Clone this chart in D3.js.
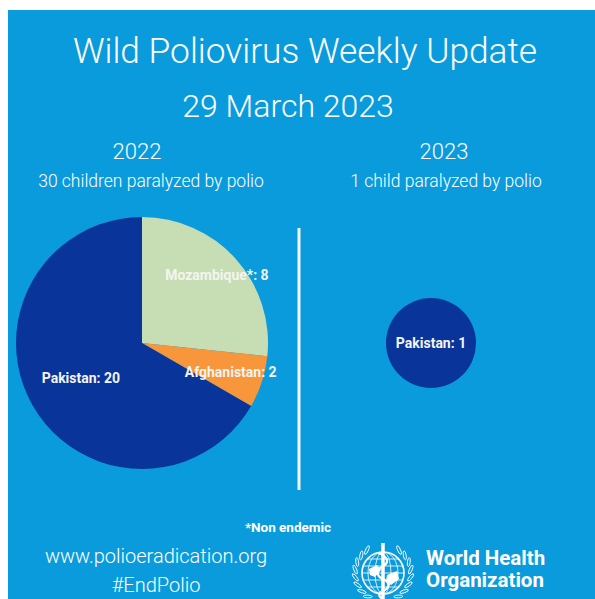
<!DOCTYPE html>
<html>
<head>
<meta charset="utf-8">
<script src="https://cdn.jsdelivr.net/npm/d3@7"></script>
<style>
  html, body { margin: 0; padding: 0; background: #fff; }
  svg { display: block; }
</style>
</head>
<body>
<div id="chart"></div>
<script>
// Case counts
const countries2022 = ['Mozambique*', 'Afghanistan', 'Pakistan'];
const cases2022 = [8, 2, 20];
const countries2023 = ['Pakistan'];
const cases2023 = [1];

const titleText = 'Wild Poliovirus Weekly Update';
const dateText = '29 March 2023';
const years = ['2022', '2023'];
const subtitles = ['30 children paralyzed by polio', '1 child paralyzed by polio'];

// Chart dimensions
const width = 595;
const height = 599;
const bg = '#0a9bdd';
const sliceColors = d3.scaleOrdinal()
    .domain(['Mozambique*', 'Afghanistan', 'Pakistan'])
    .range(['#c7deb4', '#f7963a', '#09359a']);

// where each slice label sits, as a fraction of the pie radius
const labelRadius = { 'Mozambique*': 0.8, 'Afghanistan': 0.74, 'Pakistan': 0.56 };

const svg = d3.select('#chart')
    .append('svg')
    .attr('width', width)
    .attr('height', height);

svg.append('rect')
    .attr('x', 8).attr('y', 10)
    .attr('width', width - 8).attr('height', height - 10)
    .attr('fill', bg);

const light = 'Roboto, "Noto Sans", sans-serif';
const bold = 'Roboto, "Noto Sans", sans-serif';

// Titles
svg.append('text')
    .attr('x', 305).attr('y', 63)
    .attr('text-anchor', 'middle')
    .attr('font-family', light).attr('font-weight', 300)
    .attr('font-size', 35.3).attr('fill', '#fff')
    .text(titleText);

svg.append('text')
    .attr('x', 288).attr('y', 117)
    .attr('text-anchor', 'middle')
    .attr('font-family', light).attr('font-weight', 300)
    .attr('font-size', 32).attr('fill', '#fff')
    .text(dateText);

const colX = [137, 444];
years.forEach((y, i) => {
    svg.append('text')
        .attr('x', colX[i]).attr('y', 159)
        .attr('text-anchor', 'middle')
        .attr('font-family', light).attr('font-weight', 300)
        .attr('font-size', 22).attr('fill', '#fff')
        .text(y);
    svg.append('text')
        .attr('x', i === 0 ? 151 : 446).attr('y', 187)
        .attr('text-anchor', 'middle')
        .attr('font-family', light).attr('font-weight', 300)
        .attr('font-size', 17.5).attr('fill', '#fff')
        .text(subtitles[i]);
});

// Divider
svg.append('line')
    .attr('x1', 299).attr('x2', 299)
    .attr('y1', 228).attr('y2', 490)
    .attr('stroke', '#f2f6f8').attr('stroke-width', 3);

// 2022 pie
const pie = d3.pie().sort(null).value(d => d.value);
const radius = 126;
const arc = d3.arc().innerRadius(0).outerRadius(radius);

const data2022 = countries2022.map((c, i) => ({ country: c, value: cases2022[i] }));

const g22 = svg.append('g').attr('transform', 'translate(142,343)');
const slices = pie(data2022);

g22.selectAll('path')
    .data(slices)
    .join('path')
    .attr('d', arc)
    .attr('fill', d => sliceColors(d.data.country));

g22.selectAll('text')
    .data(slices)
    .join('text')
    .attr('transform', d => {
        const r = radius * labelRadius[d.data.country];
        const c = d3.arc().innerRadius(r).outerRadius(r).centroid(d);
        return `translate(${c})`;
    })
    .attr('text-anchor', 'middle')
    .attr('dy', '0.35em')
    .attr('font-family', bold).attr('font-weight', 700)
    .attr('font-size', 14).attr('fill', '#f4f4f0')
    .text(d => `${d.data.country}: ${d.data.value}`);

// 2023 single-country disc
const data2023 = countries2023.map((c, i) => ({ country: c, value: cases2023[i] }));
const smallArc = d3.arc().innerRadius(0).outerRadius(45);
const g23 = svg.append('g').attr('transform', 'translate(431,343)');
const slices23 = pie(data2023);

g23.selectAll('path')
    .data(slices23)
    .join('path')
    .attr('d', smallArc)
    .attr('fill', d => sliceColors(d.data.country));

g23.selectAll('text')
    .data(slices23)
    .join('text')
    .attr('text-anchor', 'middle')
    .attr('dy', '0.35em')
    .attr('font-family', bold).attr('font-weight', 700)
    .attr('font-size', 14).attr('fill', '#f4f4f0')
    .text(d => `${d.data.country}: ${d.data.value}`);

// Footer
svg.append('text')
    .attr('x', 288).attr('y', 532)
    .attr('text-anchor', 'middle')
    .attr('font-family', bold).attr('font-weight', 700)
    .attr('font-size', 13.5).attr('fill', '#fff')
    .text('*Non endemic');

svg.append('text')
    .attr('x', 156).attr('y', 563)
    .attr('text-anchor', 'middle')
    .attr('font-family', light).attr('font-weight', 300)
    .attr('font-size', 20).attr('fill', '#fff')
    .text('www.polioeradication.org');

svg.append('text')
    .attr('x', 156).attr('y', 592)
    .attr('text-anchor', 'middle')
    .attr('font-family', light).attr('font-weight', 300)
    .attr('font-size', 20).attr('fill', '#fff')
    .text('#EndPolio');

// WHO emblem (simplified)
const emb = svg.append('g')
    .attr('transform', 'translate(383,573)')
    .attr('fill', 'none').attr('stroke', '#fff');

emb.append('circle').attr('r', 21).attr('stroke-width', 1.6);
[-14, -7, 0, 7, 14].forEach(y => {
    const half = Math.sqrt(21 * 21 - y * y);
    emb.append('line')
        .attr('x1', -half).attr('x2', half)
        .attr('y1', y).attr('y2', y)
        .attr('stroke-width', 0.8);
});
[8, 15].forEach(rx => {
    emb.append('ellipse').attr('rx', rx).attr('ry', 21).attr('stroke-width', 0.8);
});
// rough land masses
emb.append('path')
    .attr('d', 'M-14,-4 L-6,-8 L-2,-3 L-8,4 L-13,2 Z M4,2 L14,-2 L16,6 L8,12 L3,8 Z')
    .attr('fill', '#fff').attr('stroke', 'none');
// staff and serpent
emb.append('line')
    .attr('x1', 0).attr('x2', 0).attr('y1', -30).attr('y2', 30)
    .attr('stroke-width', 3.5);
emb.append('path')
    .attr('d', 'M-5,-20 C6,-16 6,-10 0,-7 C-7,-3 -7,3 0,6 C7,9 7,15 0,18 C-5,20 -5,24 0,26')
    .attr('stroke-width', 2.2);
// laurel wreath, thin leaves
const leaves = d3.range(8);
[-1, 1].forEach(side => {
    leaves.forEach(i => {
        const deg = -55 + i * 16;
        const a = deg * Math.PI / 180;
        const r = 28;
        const x = side * r * Math.cos(a);
        const y = r * Math.sin(a);
        emb.append('ellipse')
            .attr('cx', x).attr('cy', y)
            .attr('rx', 1.4).attr('ry', 4.5)
            .attr('transform', `rotate(${side * (deg + 30)},${x},${y})`)
            .attr('stroke-width', 0.9);
    });
});

svg.append('text')
    .attr('x', 426).attr('y', 565)
    .attr('font-family', bold).attr('font-weight', 700)
    .attr('font-size', 20.5).attr('fill', '#fff')
    .text('World Health');
svg.append('text')
    .attr('x', 426).attr('y', 587)
    .attr('font-family', bold).attr('font-weight', 700)
    .attr('font-size', 20.5).attr('fill', '#fff')
    .text('Organization');
</script>
</body>
</html>
